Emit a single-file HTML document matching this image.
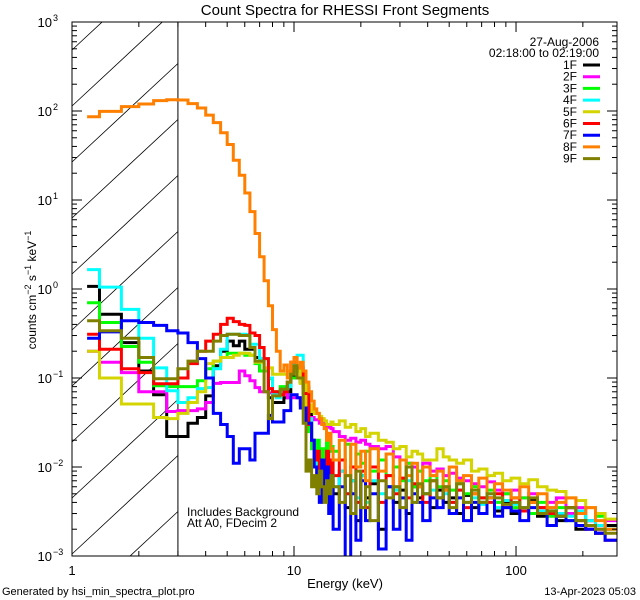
<!DOCTYPE html>
<html><head><meta charset="utf-8"><style>
html,body{margin:0;padding:0;background:#fff;width:640px;height:600px;overflow:hidden;}
svg{display:block;font-family:"Liberation Sans",sans-serif;}
</style></head><body>
<svg id="chart" width="640" height="600" viewBox="0 0 640 600">
<rect x="0" y="0" width="640" height="600" fill="#fff"/>
<defs><clipPath id="plotclip"><rect x="72" y="22" width="545" height="534"/></clipPath></defs>
<g id="hatch" clip-path="url(#plotclip)"></g>
<g id="series" clip-path="url(#plotclip)"></g>
<g id="axes"></g>
<text x="345" y="15" font-size="15" text-anchor="middle">Count Spectra for RHESSI Front Segments</text>
<text x="345" y="588" font-size="13" text-anchor="middle">Energy (keV)</text>
<text transform="translate(36,290) rotate(-90)" font-size="12" text-anchor="middle">counts cm<tspan dy="-5" font-size="9">−2</tspan><tspan dy="5"> s</tspan><tspan dy="-5" font-size="9">−1</tspan><tspan dy="5"> keV</tspan><tspan dy="-5" font-size="9">−1</tspan></text>
<text x="599" y="46" font-size="12" text-anchor="end">27-Aug-2006</text>
<text x="599" y="57" font-size="12" text-anchor="end">02:18:00 to 02:19:00</text>
<g id="legend"></g>
<text x="187" y="516" font-size="12">Includes Background</text>
<text x="187" y="527" font-size="12">Att A0, FDecim 2</text>
<text x="2" y="595" font-size="11">Generated by hsi_min_spectra_plot.pro</text>
<text x="636" y="595" font-size="11" text-anchor="end">13-Apr-2023 05:03</text>
</svg>
<script>
const energyEdges = [1.17,1.33,1.67,2,2.33,2.67,3,3.33,3.67,4,4.33,4.67,5,5.33,5.67,6,6.33,6.67,7,7.33,7.67,8,8.33,8.67,9,9.33,9.67,10,10.33,10.67,11,11.33,11.67,12,12.33,12.67,13,13.33,13.67,14,14.33,14.67,15,16,17,18,19,20,21,22,24,26,28,30,32,34,36,38,41,44,47,50,54,58,63,68,74,80,87,95,104,114,125,138,152,168,186,206,228,252,285];
const seriesNames = ["1F","2F","3F","4F","5F","6F","7F","8F","9F"];
const seriesColors = ["#000000","#ff00ff","#00ff00","#00ffff","#d4d400","#ff0000","#0000ff","#ff8000","#808000"];
const s1F = [1.07,0.52,0.25,0.12,0.065,0.022, 0.022,0.031,0.036,0.063,0.137,0.2,0.26,0.23,0.26,0.21,0.21,0.17,0.12,0.12,0.06,0.053,0.053,0.053,0.06,0.07,0.11,0.1,0.1,0.09,0.078,0.078,0.04,0.02,0.012,0.006,0.01,0.005,0.008,0.006,0.004,0.007, 0.005,0.009,0.0035,0.007,0.0025,0.008,0.0045,0.0065,0.002,0.006,0.004,0.0055,0.003,0.006,0.0045,0.005,0.0035,0.0055,0.004,0.0045,0.003,0.0048,0.0035,0.004,0.0045,0.0032,0.004,0.003,0.0035,0.0042,0.0028,0.0032,0.0025,0.0035,0.002,0.0025,0.0018,0.0022];
const s2F = [0.2,0.15,0.115,0.07,0.07,0.042, 0.043,0.043,0.045,0.053,0.087,0.089,0.089,0.089,0.12,0.106,0.093,0.078,0.07,0.07,0.068,0.068,0.068,0.068,0.068,0.06,0.06,0.06,0.06,0.051,0.051,0.051,0.036,0.036,0.034,0.034,0.031,0.031,0.031,0.028,0.03,0.027, 0.025,0.022,0.02,0.021,0.019,0.02,0.018,0.017,0.016,0.017,0.013,0.012,0.011,0.01,0.009,0.011,0.009,0.0095,0.008,0.0085,0.0075,0.007,0.0065,0.006,0.0068,0.0055,0.005,0.0055,0.0045,0.005,0.0035,0.004,0.0045,0.003,0.0035,0.0025,0.002,0.0025];
const s3F = [0.7,0.42,0.226,0.15,0.082,0.08, 0.08,0.08,0.093,0.127,0.155,0.17,0.19,0.19,0.19,0.18,0.18,0.145,0.12,0.12,0.098,0.07,0.07,0.08,0.08,0.08,0.1,0.1,0.1,0.09,0.09,0.05,0.025,0.016,0.016,0.02,0.012,0.016,0.013,0.02,0.015,0.017, 0.015,0.012,0.018,0.01,0.014,0.011,0.015,0.009,0.012,0.008,0.01,0.007,0.011,0.006,0.009,0.007,0.008,0.006,0.007,0.0055,0.0065,0.005,0.006,0.0045,0.0055,0.004,0.005,0.0035,0.0045,0.003,0.004,0.0028,0.0035,0.0025,0.003,0.0022,0.0028,0.002];
const s4F = [1.65,1.05,0.59,0.28,0.13,0.072, 0.053,0.06,0.076,0.078,0.127,0.21,0.31,0.31,0.31,0.31,0.24,0.24,0.165,0.165,0.1,0.065,0.06,0.07,0.075,0.08,0.12,0.17,0.18,0.18,0.11,0.06,0.035,0.02,0.012,0.01,0.006,0.009,0.007,0.005,0.008,0.006, 0.006,0.009,0.005,0.007,0.0045,0.008,0.004,0.007,0.005,0.006,0.0055,0.0045,0.007,0.004,0.006,0.005,0.0055,0.0045,0.005,0.004,0.0055,0.004,0.0045,0.0038,0.005,0.0035,0.0042,0.0038,0.0035,0.004,0.0032,0.0035,0.003,0.0028,0.0032,0.0025,0.0022,0.002];
const s5F = [0.2,0.1,0.051,0.051,0.036,0.035, 0.04,0.053,0.07,0.145,0.155,0.17,0.17,0.18,0.19,0.19,0.18,0.15,0.15,0.13,0.13,0.11,0.11,0.11,0.11,0.12,0.12,0.12,0.12,0.087,0.087,0.05,0.05,0.042,0.04,0.04,0.037,0.035,0.033,0.03,0.03,0.032, 0.03,0.033,0.028,0.03,0.025,0.027,0.022,0.024,0.02,0.019,0.016,0.017,0.013,0.015,0.014,0.012,0.012,0.016,0.013,0.012,0.011,0.012,0.009,0.0095,0.008,0.0085,0.007,0.0075,0.0065,0.0072,0.006,0.0055,0.0053,0.0045,0.0042,0.0035,0.003,0.0026];
const s6F = [0.31,0.21,0.127,0.115,0.086,0.086, 0.1,0.145,0.2,0.26,0.31,0.4,0.47,0.43,0.4,0.39,0.32,0.3,0.22,0.165,0.076,0.07,0.07,0.065,0.07,0.09,0.15,0.15,0.13,0.13,0.067,0.067,0.03,0.02,0.012,0.015,0.008,0.012,0.006,0.015,0.007,0.012, 0.008,0.012,0.005,0.01,0.004,0.009,0.0035,0.01,0.004,0.008,0.005,0.0075,0.0045,0.0065,0.006,0.004,0.007,0.0045,0.006,0.004,0.0055,0.0035,0.005,0.0045,0.004,0.005,0.0035,0.0045,0.0032,0.004,0.0035,0.003,0.0028,0.0035,0.0025,0.002,0.0018,0.0015];
const s7F = [0.28,0.33,0.44,0.42,0.39,0.34, 0.32,0.25,0.165,0.1,0.04,0.03,0.022,0.011,0.016,0.016,0.012,0.024,0.024,0.024,0.038,0.032,0.032,0.032,0.043,0.043,0.065,0.065,0.06,0.046,0.046,0.031,0.031,0.02,0.01,0.006,0.004,0.012,0.005,0.01,0.003,0.008, 0.002,0.006,0.0009,0.005,0.0015,0.007,0.0025,0.005,0.0012,0.006,0.002,0.0045,0.0015,0.005,0.004,0.0025,0.0045,0.0035,0.0055,0.003,0.0045,0.0025,0.004,0.003,0.0045,0.0028,0.0035,0.0032,0.0025,0.0035,0.003,0.0022,0.0028,0.0025,0.0022,0.002,0.0018,0.0015];
const s8F = [86,99,112,120,131,134, 133,121,108,90,74,57,42,28,19,12,7.4,4.2,2.3,1.24,0.65,0.35,0.2,0.12,0.14,0.1,0.15,0.17,0.13,0.15,0.12,0.09,0.07,0.055,0.045,0.04,0.035,0.03,0.027,0.02,0.024,0.016, 0.012,0.02,0.008,0.018,0.01,0.015,0.007,0.016,0.009,0.014,0.006,0.012,0.008,0.011,0.006,0.01,0.008,0.009,0.0055,0.01,0.007,0.008,0.005,0.0075,0.0045,0.0065,0.0055,0.0045,0.006,0.004,0.005,0.0035,0.004,0.0045,0.003,0.0035,0.0025,0.002];
const s9F = [0.44,0.34,0.28,0.17,0.098,0.098, 0.127,0.155,0.2,0.2,0.26,0.3,0.31,0.31,0.3,0.3,0.22,0.155,0.155,0.07,0.035,0.063,0.063,0.075,0.075,0.09,0.11,0.137,0.1,0.1,0.031,0.009,0.012,0.006,0.008,0.005,0.009,0.006,0.004,0.007,0.005,0.008, 0.006,0.004,0.008,0.003,0.009,0.0035,0.006,0.0025,0.007,0.0045,0.006,0.0035,0.01,0.004,0.0065,0.005,0.007,0.0045,0.006,0.0035,0.0065,0.004,0.0055,0.004,0.005,0.0045,0.0038,0.004,0.0035,0.0045,0.003,0.0032,0.0028,0.0035,0.0025,0.0022,0.002,0.0018];
const seriesValues = [s1F,s2F,s3F,s4F,s5F,s6F,s7F,s8F,s9F];
const yTickExponents = [-3,-2,-1,0,1,2,3];
const xTickLabels = ["1","10","100"];
const xTickValues = [1,10,100];
const xMin = 1, xMax = 285, yMinExp = -3, yMaxExp = 3;
const attenuatorCutoff = 3;

const NS = "http://www.w3.org/2000/svg";
const PL = 72, PR = 617, PT = 22, PB = 556;
function xs(e){ return PL + (PR-PL) * Math.log10(e/xMin) / Math.log10(xMax/xMin); }
function ys(v){ return PB - (PB-PT) * (Math.log10(v) - yMinExp) / (yMaxExp - yMinExp); }
function mk(tag, attrs, parent){ const el = document.createElementNS(NS, tag); for (const k in attrs) el.setAttribute(k, attrs[k]); parent.appendChild(el); return el; }

const hatch = document.getElementById('hatch');
const xc = xs(attenuatorCutoff);
for (let c = -200; c < 800; c += 56) {
  const ln = mk('line', {x1: PL, y1: c + 26, x2: xc, y2: c + 26 - (xc-PL)*0.93, stroke:'#000', 'stroke-width':0.8}, hatch);
  
  
}
const vline = mk('line', {x1: xc, y1: PT, x2: xc, y2: PB, stroke:'#000', 'stroke-width':1}, hatch);



const sg = document.getElementById('series');
seriesValues.forEach((vals, i) => {
  let d = '';
  for (let j = 0; j < vals.length; j++) {
    const x0 = xs(energyEdges[j]), x1 = xs(energyEdges[j+1]);
    const y = ys(Math.max(vals[j], 1e-4));
    d += (j === 0 ? 'M' : 'L') + x0.toFixed(1) + ',' + y.toFixed(1) + 'L' + x1.toFixed(1) + ',' + y.toFixed(1);
  }
  const p = mk('path', {d: d, fill:'none', stroke: seriesColors[i], 'stroke-width': 3}, sg);
  
  
});

const ax = document.getElementById('axes');
const frame = mk('rect', {x: PL, y: PT, width: PR-PL, height: PB-PT, fill:'none', stroke:'#000', 'stroke-width':1}, ax);


for (let d = 1; d <= 100; d *= 10) {
  for (let m = 1; m <= 9; m++) {
    const e = d*m; if (e > xMax) break;
    const x = xs(e), len = m === 1 ? 10 : 5;
    const t1 = mk('line', {x1:x, y1:PB, x2:x, y2:PB-len, stroke:'#000'}, ax);
    
    
    const t2 = mk('line', {x1:x, y1:PT, x2:x, y2:PT+len, stroke:'#000'}, ax);
    
    
  }
}
xTickValues.forEach((v, i) => {
  const t = mk('text', {x: xs(v), y: 575, 'font-size': 13, 'text-anchor':'middle'}, ax);
  t.textContent = xTickLabels[i];
  
  
});
yTickExponents.forEach(ex => {
  for (let m = 1; m <= 9; m++) {
    if (ex === yMaxExp && m > 1) break;
    const y = ys(m * Math.pow(10, ex)), len = m === 1 ? 10 : 5;
    const t1 = mk('line', {x1:PL, y1:y, x2:PL+len, y2:y, stroke:'#000'}, ax);
    
    
    const t2 = mk('line', {x1:PR, y1:y, x2:PR-len, y2:y, stroke:'#000'}, ax);
    
    
  }
  const y = ys(Math.pow(10, ex));
  const t = mk('text', {x: 52, y: y + 5, 'font-size': 13, 'text-anchor':'end'}, ax);
  t.textContent = '10';
  
  
  const s = mk('text', {x: 53, y: y - 1, 'font-size': 9}, ax);
  s.textContent = ex < 0 ? '\u2212' + (-ex) : String(ex);
  
  
});

const lg = document.getElementById('legend');
seriesNames.forEach((n, i) => {
  const y = 65 + i * 11.7;
  const t = mk('text', {x: 577, y: y + 4, 'font-size': 12, 'text-anchor':'end'}, lg);
  t.textContent = n;
  
  
  const l = mk('line', {x1: 583, y1: y, x2: 600, y2: y, stroke: seriesColors[i], 'stroke-width': 3}, lg);
  
  
});
</script>
</body></html>
